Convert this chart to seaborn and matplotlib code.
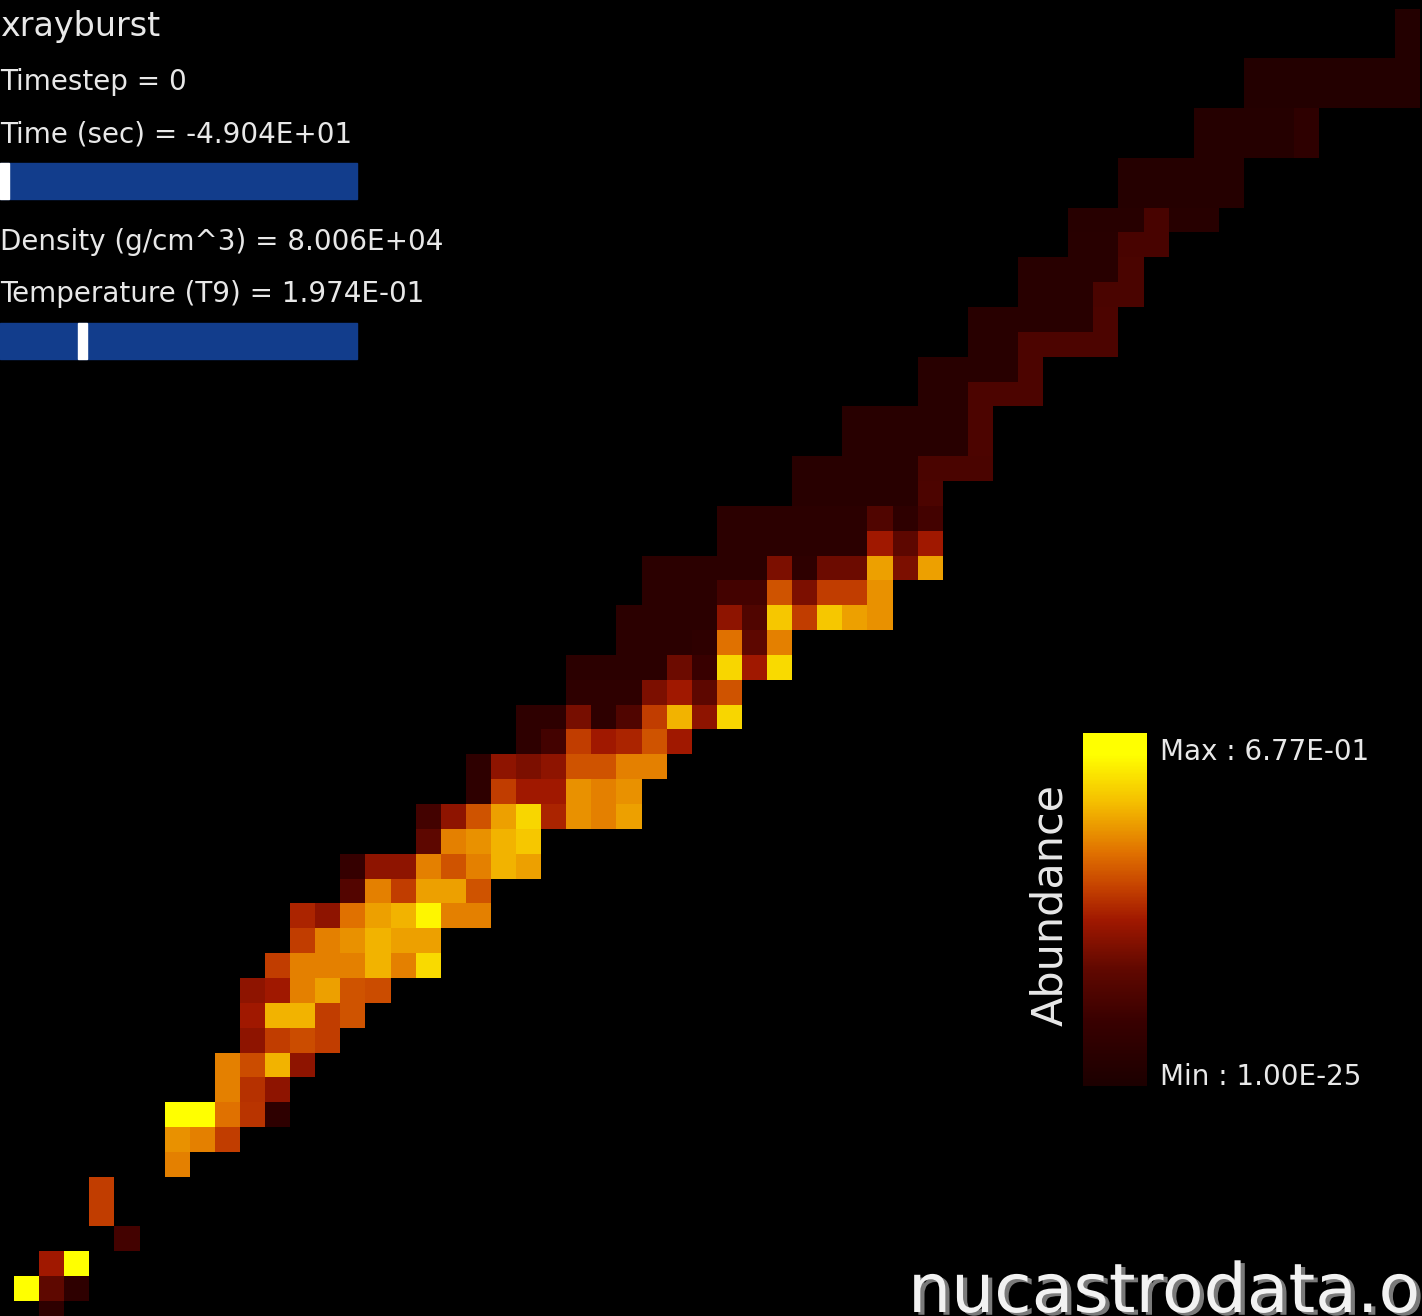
import numpy as np
import pandas as pd
import matplotlib
matplotlib.use("Agg")
import matplotlib.pyplot as plt
import matplotlib.patheffects as pe
import seaborn as sns
from matplotlib.colors import LinearSegmentedColormap
from matplotlib.patches import Rectangle

# xrayburst network, timestep 0: log10 abundance per nuclide.
# Row k holds element Z = k, starting at neutron number z_first_n[k].
z_first_n = [1, 0, 1, 4, 3, 3, 6, 6, 6, 8, 8, 9, 9, 9, 10, 11, 11, 13, 13, 16,
             16, 18, 18, 20, 20, 22, 22, 24, 24, 25, 25, 28, 28, 31, 31, 33, 33,
             36, 36, 38, 38, 40, 40, 42, 42, 44, 44, 47, 47, 49, 49, 55, 55]

log_abund = [
    [-22.0],
    [-0.2, -17.0, -22.0],
    [-13.3, -0.6],
    [-19.5],
    [-11.3],
    [-11.3],
    [-7.9],
    [-7.1, -7.9, -11.3],
    [-1.0, -1.0, -8.6, -11.8, -22.0],
    [-7.9, -12.0, -14.3],
    [-7.9, -10.5, -5.6, -14.3],
    [-14.3, -11.3, -10.5, -11.3],
    [-13.3, -5.6, -5.6, -11.3, -10.1],
    [-14.3, -13.3, -7.9, -6.4, -10.1, -10.5],
    [-11.3, -7.9, -7.9, -7.9, -5.6, -7.9, -3.6],
    [-11.3, -7.9, -7.1, -5.6, -6.4, -6.4],
    [-12.6, -14.3, -8.6, -6.4, -5.6, -2.2, -7.9, -7.9],
    [-18.0, -7.9, -11.3, -6.4, -6.4, -10.1],
    [-21.0, -14.3, -14.3, -7.9, -10.1, -7.9, -5.6, -6.4],
    [-17.1, -7.9, -7.1, -5.6, -4.6],
    [-19.5, -14.3, -10.1, -6.4, -3.8, -12.6, -7.1, -7.9, -6.4],
    [-22.0, -11.3, -13.3, -13.3, -7.1, -7.9, -7.1],
    [-22.0, -14.3, -15.3, -14.3, -10.1, -10.1, -7.9, -7.9],
    [-22.0, -19.5, -11.3, -13.3, -12.6, -10.1, -13.3],
    [-22.0, -22.0, -15.5, -22.0, -18.3, -11.3, -5.6, -14.3, -3.8],
    [-22.0, -22.0, -22.0, -15.3, -13.3, -17.1, -10.1],
    [-22.5, -22.5, -22.5, -22.5, -16.1, -20.5, -3.8, -13.3, -3.6],
    [-22.5, -22.5, -22.5, -22.0, -8.6, -17.1, -7.9],
    [-22.5, -22.5, -22.5, -22.5, -14.3, -18.3, -4.6, -11.3, -4.6, -6.4, -7.1],
    [-22.5, -22.5, -22.5, -19.5, -19.5, -10.1, -15.3, -11.3, -11.3, -7.1],
    [-22.5, -22.5, -22.5, -22.5, -22.5, -15.3, -22.0, -16.1, -16.1, -6.4, -15.3, -6.4],
    [-22.5, -22.5, -22.5, -22.5, -22.5, -22.5, -13.3, -17.1, -13.3],
    [-22.5, -22.5, -22.5, -22.5, -22.5, -22.5, -18.3, -22.0, -19.5],
    [-23.0, -23.0, -23.0, -23.0, -23.0, -18.6],
    [-23.0, -23.0, -23.0, -23.0, -23.0, -18.8, -18.8, -18.8],
    [-23.0, -23.0, -23.0, -23.0, -23.0, -18.6],
    [-23.0, -23.0, -23.0, -23.0, -23.0, -18.6],
    [-23.0, -23.0, -18.6, -18.6, -18.6],
    [-23.0, -23.0, -23.0, -23.0, -18.6],
    [-23.0, -23.0, -18.6, -18.6, -18.6, -18.6],
    [-23.0, -23.0, -23.0, -23.0, -23.0, -18.6],
    [-23.0, -23.0, -23.0, -18.8, -18.8],
    [-23.0, -23.0, -23.0, -23.0, -18.8],
    [-23.0, -23.0, -19.0, -19.0],
    [-23.2, -23.2, -23.2, -19.0, -23.2, -23.2],
    [-23.6, -23.6, -23.6, -23.6, -23.6],
    [-23.6, -23.6, -23.6, -23.6, -23.6],
    [-23.6, -23.6, -23.6, -23.6, -22.0],
    [-23.6, -23.6, -23.6, -23.6, -22.0],
    [-23.9, -23.9, -23.9, -23.9, -23.9, -23.9, -23.9],
    [-23.9, -23.9, -23.9, -23.9, -23.9, -23.9, -23.9],
    [-23.9],
    [-23.9],
]

abund_min = 1.00e-25
abund_max = 6.77e-01

info_lines = ["Timestep = 0",
              "Time (sec) = -4.904E+01",
              "Density (g/cm^3) = 8.006E+04",
              "Temperature (T9) = 1.974E-01"]

# ---- grid of nuclides (rows: Z, columns: N) ----
n_cols = 56
n_rows = len(z_first_n)
grid = np.full((n_rows, n_cols), np.nan)
for z, (n0, vals) in enumerate(zip(z_first_n, log_abund)):
    for i, v in enumerate(vals):
        if n0 + i < n_cols:
            grid[z, n0 + i] = v
df = pd.DataFrame(grid, index=pd.Index(range(n_rows), name="Z"),
                  columns=pd.Index(range(n_cols), name="N")).iloc[::-1]

cmap = LinearSegmentedColormap.from_list(
    "abund",
    [(0.00, "#1c0000"), (0.18, "#380000"), (0.33, "#600800"),
     (0.47, "#a01800"), (0.56, "#c44000"), (0.66, "#e07000"),
     (0.80, "#f4bc00"), (0.94, "#ffff00"), (1.00, "#ffff00")])

W, H = 1422, 1316
fig = plt.figure(figsize=(W / 100, H / 100), dpi=100, facecolor="black")

cell_w, cell_h = 25.1, 24.85
x_left = 14.0
y_bottom = 1301.0 + cell_h          # lower edge of the Z = 0 row (pixels from top)
ax = fig.add_axes([x_left / W, 1 - y_bottom / H,
                   n_cols * cell_w / W, n_rows * cell_h / H])
ax.set_facecolor("black")
sns.heatmap(df, ax=ax, cmap=cmap, vmin=np.log10(abund_min), vmax=np.log10(abund_max),
            cbar=False, xticklabels=False, yticklabels=False, linewidths=0)
ax.set_xlabel("")
ax.set_ylabel("")
for sp in ax.spines.values():
    sp.set_visible(False)

# ---- colour bar ----
cax = fig.add_axes([1083 / W, 1 - 1086 / H, 64 / W, 353 / H])
cb = fig.colorbar(ax.collections[0], cax=cax)
cb.outline.set_visible(False)
cax.set_yticks([])

txt = "#e8e8e8"
fig.text(1050 / W, 1 - 905 / H, "Abundance", rotation=90, color=txt,
         fontsize=31, ha="center", va="center")
fig.text(1160 / W, 1 - 760 / H, f"Max : {abund_max:.2E}", color=txt,
         fontsize=20, ha="left", va="baseline")
fig.text(1160 / W, 1 - 1085 / H, f"Min : {abund_min:.2E}", color=txt,
         fontsize=20, ha="left", va="baseline")

# ---- header block ----
fig.text(0, 1 - 36 / H, "xrayburst", color=txt, fontsize=24, ha="left", va="baseline")
for s, yb in zip(info_lines, [90, 143, 250, 302]):
    fig.text(0, 1 - yb / H, s, color=txt, fontsize=20, ha="left", va="baseline")

bar_blue = "#123d8c"
for (y0, y1, mx) in [(163, 199, 0), (323, 359, 78)]:
    fig.patches.append(Rectangle((0, 1 - y1 / H), 357 / W, (y1 - y0) / H,
                                 transform=fig.transFigure, color=bar_blue))
    fig.patches.append(Rectangle((mx / W, 1 - y1 / H), 9 / W, (y1 - y0) / H,
                                 transform=fig.transFigure, color="white"))

# ---- site mark with drop shadow ----
fig.text(908 / W, 1 - 1312 / H, "nucastrodata.org", color="#f2f2f2",
         fontsize=49, ha="left", va="baseline",
         path_effects=[pe.withSimplePatchShadow(offset=(3, -2),
                                                shadow_rgbFace="#7a7a7a", alpha=1.0)])

fig.savefig("out.png", dpi=100, facecolor="black")
